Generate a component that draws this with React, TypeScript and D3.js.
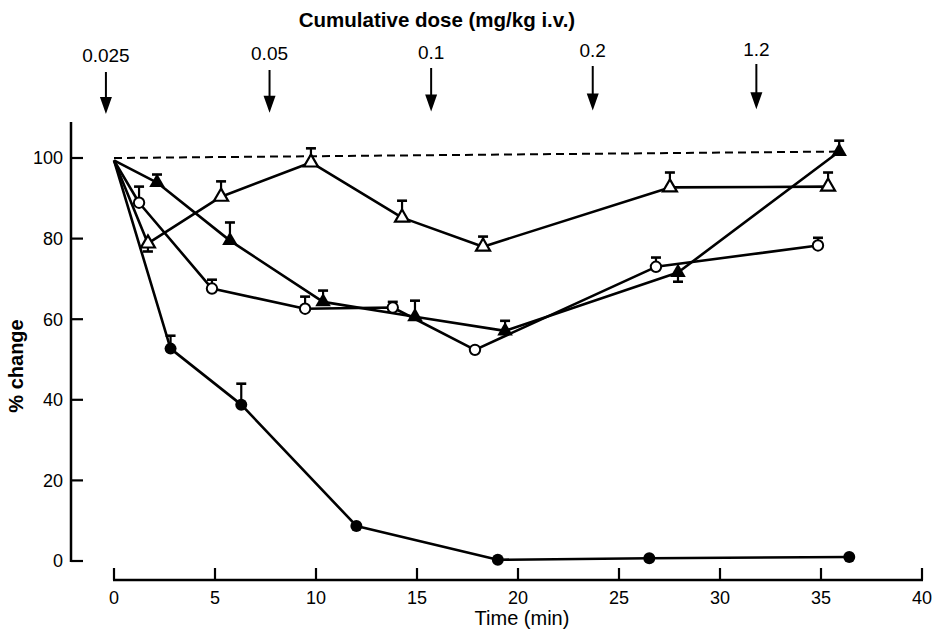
import React from "react";
import * as d3 from "d3";

// ---- data ----
const xTicks = [0, 5, 10, 15, 20, 25, 30, 35, 40];
const yTicks = [0, 20, 40, 60, 80, 100];

const doseLabels = ["0.025", "0.05", "0.1", "0.2", "1.2"];
const doseTimes = [-0.4, 7.7, 15.7, 23.7, 31.8];

// filled circles
const fcT = [0, 2.8, 6.3, 12.0, 19.0, 26.5, 36.4];
const fcV = [99.4, 52.7, 38.8, 8.7, 0.3, 0.7, 1.0];
const fcE = [99.4, 55.9, 44.0, 8.7, 0.3, 0.7, 1.0];

// open circles
const ocT = [0, 1.24, 4.85, 9.46, 13.8, 17.87, 26.83, 34.85];
const ocV = [99.4, 88.9, 67.6, 62.6, 62.9, 52.4, 73.0, 78.3];
const ocE = [99.4, 92.9, 69.8, 65.6, 64.3, 52.4, 75.3, 80.2];

// open triangles
const otT = [0, 1.68, 5.3, 9.75, 14.26, 18.27, 27.52, 35.35];
const otV = [99.4, 78.8, 90.4, 98.9, 85.2, 78.0, 92.7, 92.9];
const otE = [99.4, 76.8, 94.2, 102.4, 89.4, 80.5, 96.4, 96.4];

// filled triangles
const ftT = [0, 2.13, 5.74, 10.35, 14.9, 19.36, 27.92, 35.9];
const ftV = [99.4, 93.9, 79.5, 64.3, 60.6, 57.1, 71.6, 101.6];
const ftE = [99.4, 95.9, 84.0, 67.1, 64.6, 59.6, 69.3, 104.3];

// control (dashed) line
const ctrlT = [0, 35.9];
const ctrlV = [100, 101.6];

type Series = { t: number[]; v: number[]; e: number[]; shape: "circle" | "triangle"; filled: boolean };
const series: Series[] = [
  { t: fcT, v: fcV, e: fcE, shape: "circle", filled: true },
  { t: ocT, v: ocV, e: ocE, shape: "circle", filled: false },
  { t: otT, v: otV, e: otE, shape: "triangle", filled: false },
  { t: ftT, v: ftV, e: ftE, shape: "triangle", filled: true },
];

const FONT = "'Liberation Sans', Arial, Helvetica, sans-serif";

export default function App() {
  const x = d3.scaleLinear().domain([0, 40]).range([114, 922]);
  const y = d3.scaleLinear().domain([0, 100]).range([561, 158]);
  const line = d3
    .line<[number, number]>()
    .x((d) => x(d[0]))
    .y((d) => y(d[1]));

  const triSym = d3.symbol().type(d3.symbolTriangle).size(105)();
  const triSymOpen = d3.symbol().type(d3.symbolTriangle).size(85)();

  const axisY = 580;
  const axisX = 71;

  return (
    <svg
      width={938}
      height={630}
      style={{ position: "absolute", left: 0, top: 0, background: "#fff" }}
      fontFamily={FONT}
    >
      <rect x={0} y={0} width={938} height={630} fill="#fff" />
      {/* Title */}
      <text x={437} y={27} textAnchor="middle" fontSize={20.5} fontWeight="bold" fill="#000">
        Cumulative dose (mg/kg i.v.)
      </text>

      {/* dose arrows */}
      {doseTimes.map((t, i) => {
        const ax = x(t);
        const tilt = ((ax - 106) / 650) * 8;
        const top = 72 - tilt;
        const bot = 114 - tilt * 0.6;
        return (
          <g key={"arr" + i}>
            <text x={ax} y={62 - tilt * 0.8} textAnchor="middle" fontSize={19} fill="#000">
              {doseLabels[i]}
            </text>
            <line x1={ax} x2={ax} y1={top} y2={bot - 12} stroke="#000" strokeWidth={2} />
            <path d={`M${ax - 6},${bot - 17} L${ax + 6},${bot - 17} L${ax},${bot} Z`} fill="#000" />
          </g>
        );
      })}

      {/* Y axis */}
      <line x1={axisX} x2={axisX} y1={122} y2={y(0) + 1} stroke="#000" strokeWidth={2.5} />
      {yTicks.map((v) => (
        <g key={"yt" + v}>
          <line x1={axisX} x2={axisX + 12} y1={y(v)} y2={y(v)} stroke="#000" strokeWidth={2.2} />
          <text x={63} y={y(v)} dy="0.36em" textAnchor="end" fontSize={18} fill="#000">
            {v}
          </text>
        </g>
      ))}
      <text
        transform={`translate(23,366) rotate(-90)`}
        textAnchor="middle"
        fontSize={20}
        fontWeight="bold"
        fill="#000"
      >
        % change
      </text>

      {/* X axis */}
      <line x1={x(0) - 1} x2={x(40) + 1} y1={axisY} y2={axisY} stroke="#000" strokeWidth={2.5} />
      {xTicks.map((v) => (
        <g key={"xt" + v}>
          <line x1={x(v)} x2={x(v)} y1={axisY} y2={axisY - 12} stroke="#000" strokeWidth={2.2} />
          <text x={x(v)} y={604} textAnchor="middle" fontSize={18} fill="#000">
            {v}
          </text>
        </g>
      ))}
      <text x={522} y={625} textAnchor="middle" fontSize={20} fill="#000">
        Time (min)
      </text>

      {/* control dashed line */}
      <path
        d={line(ctrlT.map((t, i) => [t, ctrlV[i]]) as [number, number][]) || ""}
        fill="none"
        stroke="#000"
        strokeWidth={2}
        strokeDasharray="8,5"
      />

      {/* series lines */}
      {series.map((s, si) => (
        <path
          key={"ln" + si}
          d={line(s.t.map((t, i) => [t, s.v[i]]) as [number, number][]) || ""}
          fill="none"
          stroke="#000"
          strokeWidth={2.6}
          strokeLinejoin="round"
        />
      ))}

      {/* error bars */}
      {series.map((s, si) =>
        s.t.map((t, i) =>
          i === 0 || Math.abs(s.e[i] - s.v[i]) < 0.2 ? null : (
            <g key={"eb" + si + "-" + i}>
              <line x1={x(t)} x2={x(t)} y1={y(s.v[i])} y2={y(s.e[i])} stroke="#000" strokeWidth={2.2} />
              <line
                x1={x(t) - 5}
                x2={x(t) + 5}
                y1={y(s.e[i])}
                y2={y(s.e[i])}
                stroke="#000"
                strokeWidth={2.6}
              />
            </g>
          )
        )
      )}

      {/* markers */}
      {series.map((s, si) =>
        s.t.map((t, i) => {
          if (i === 0) return null;
          const cx = x(t);
          const cy = y(s.v[i]);
          if (s.shape === "circle") {
            return s.filled ? (
              <circle key={"m" + si + "-" + i} cx={cx} cy={cy} r={6} fill="#000" />
            ) : (
              <circle key={"m" + si + "-" + i} cx={cx} cy={cy} r={5.2} fill="#fff" stroke="#000" strokeWidth={2} />
            );
          }
          return s.filled ? (
            <path key={"m" + si + "-" + i} d={triSym || ""} transform={`translate(${cx},${cy})`} fill="#000" />
          ) : (
            <path
              key={"m" + si + "-" + i}
              d={triSymOpen || ""}
              transform={`translate(${cx},${cy})`}
              fill="#fff"
              stroke="#000"
              strokeWidth={2.2}
            />
          );
        })
      )}
    </svg>
  );
}
